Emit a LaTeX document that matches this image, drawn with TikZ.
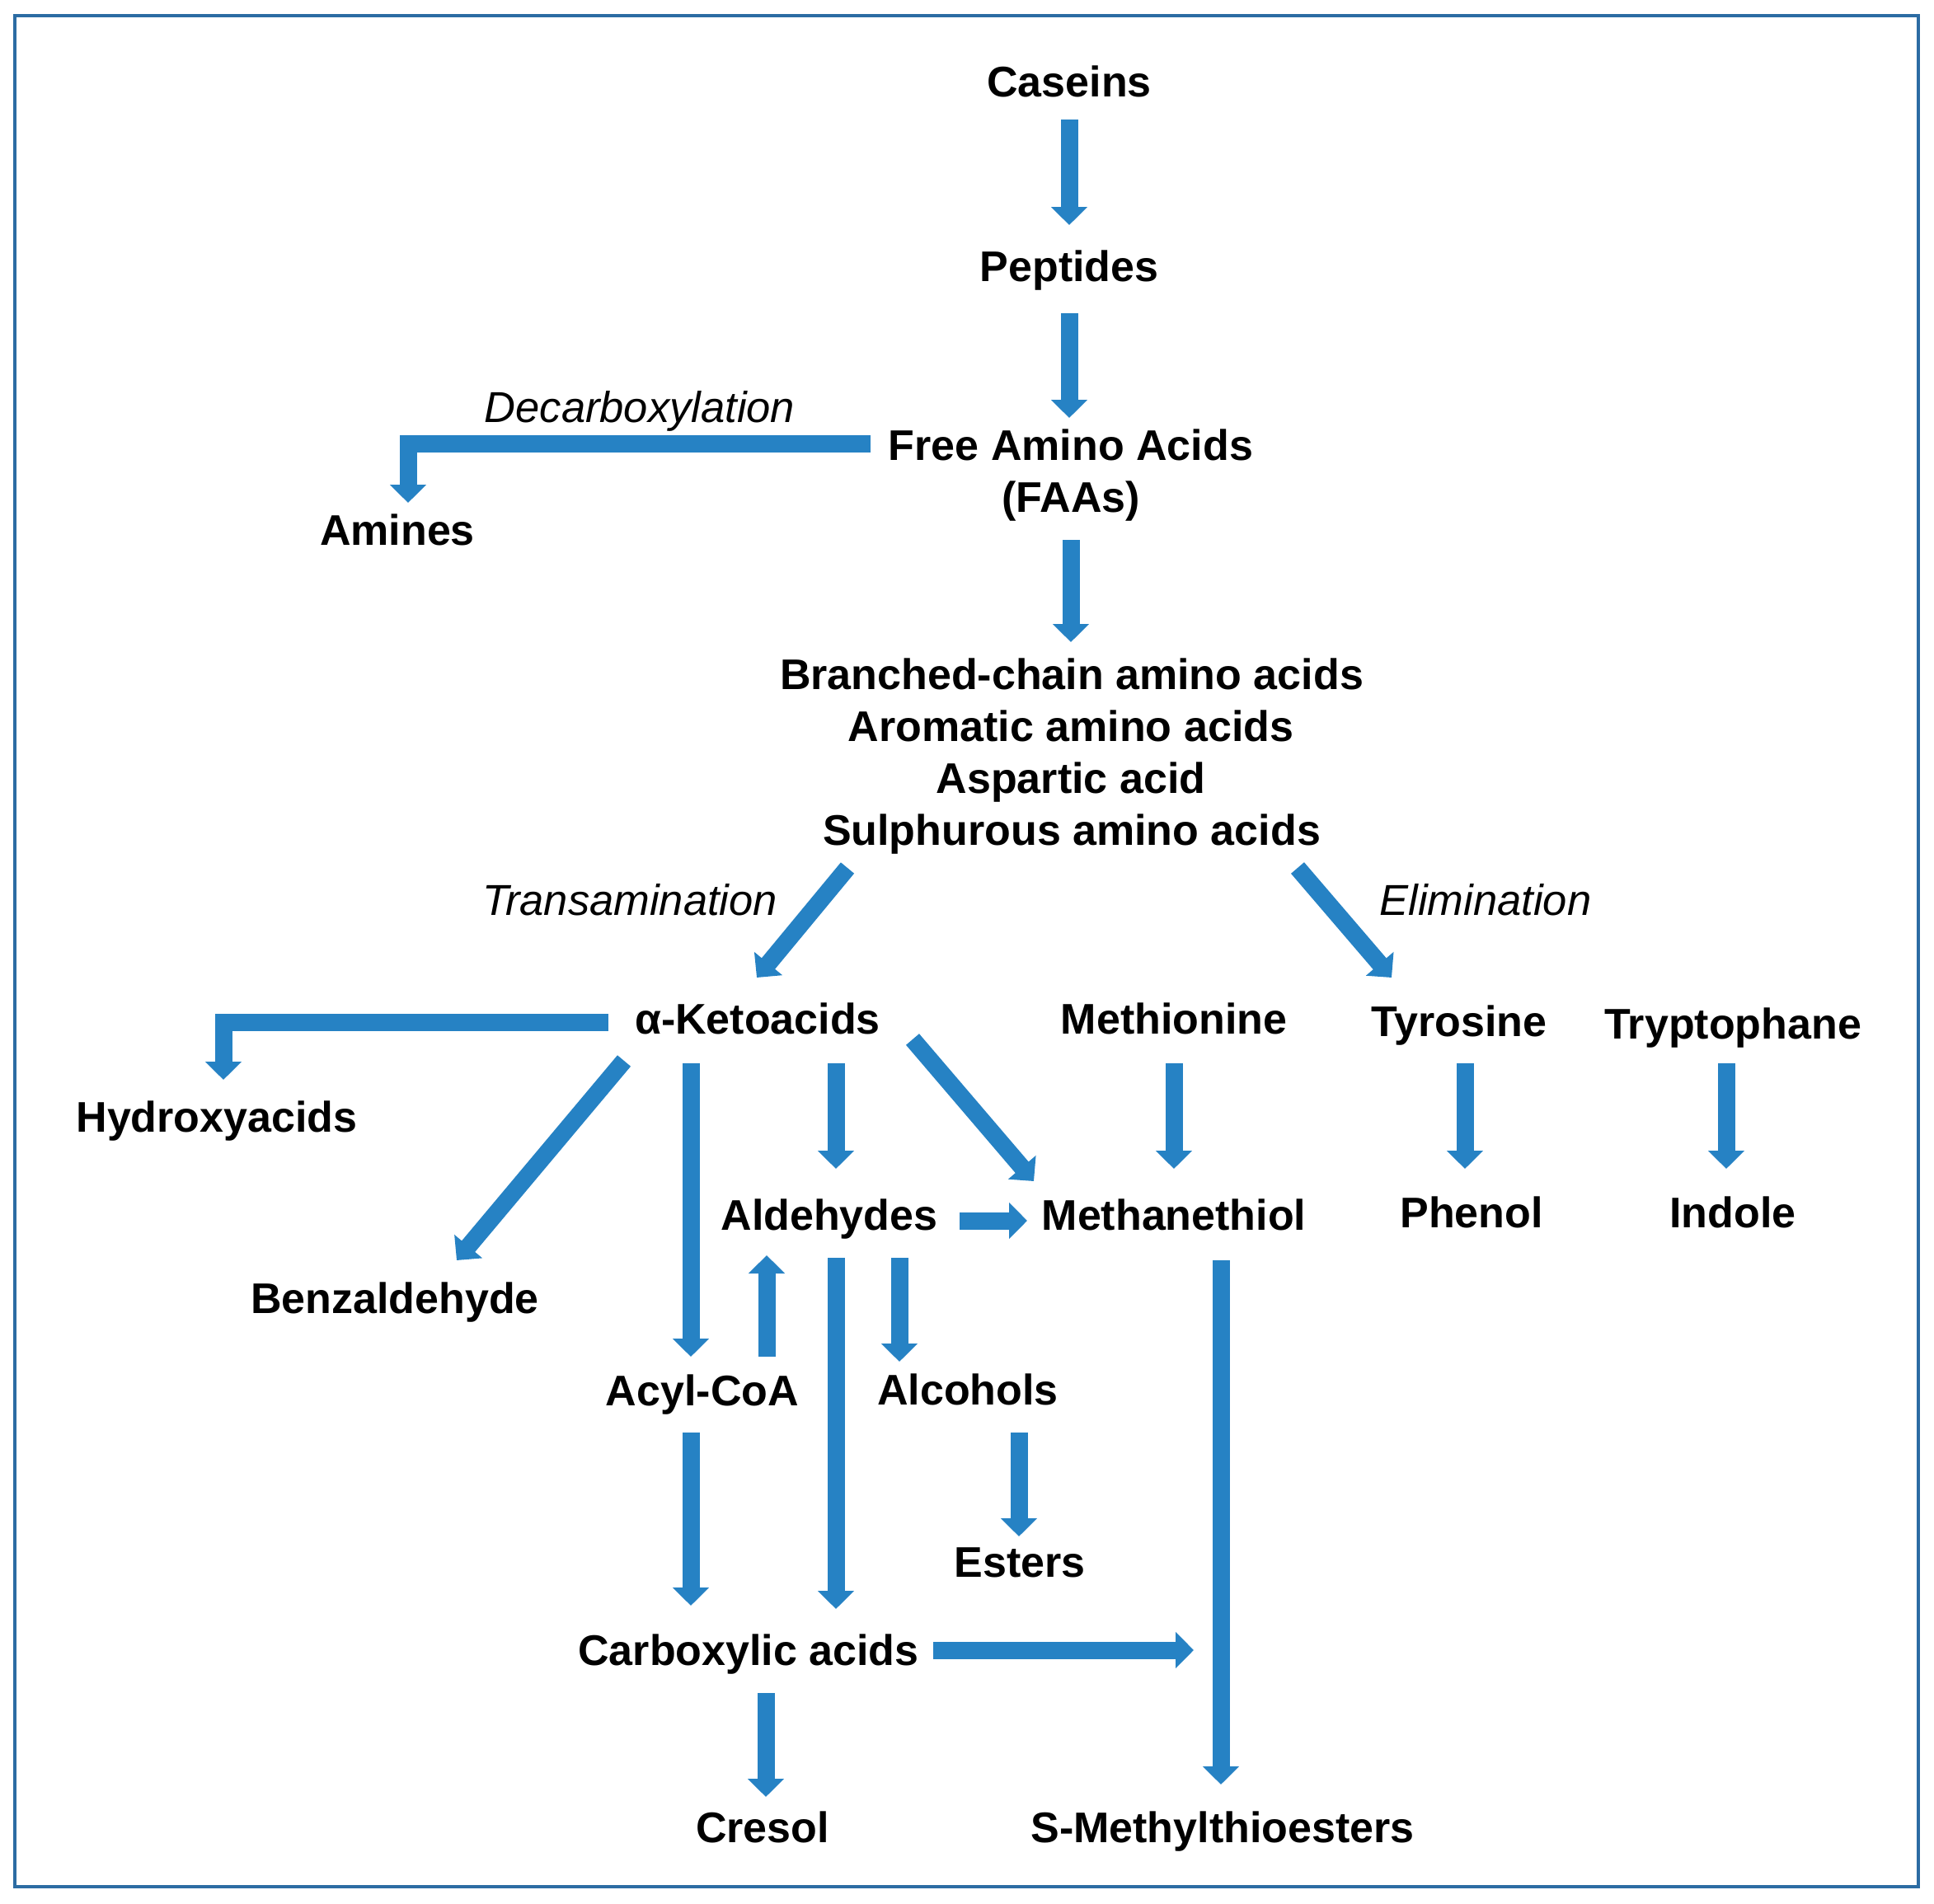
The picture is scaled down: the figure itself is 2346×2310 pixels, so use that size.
\documentclass[tikz,border=0pt]{standalone}
\usepackage{fontspec}
\setmainfont{Liberation Sans}
\usetikzlibrary{arrows.meta}
\definecolor{arrblue}{RGB}{38,130,196}
\definecolor{frameblue}{RGB}{44,108,163}
\tikzset{
  lbl/.style={font=\fontsize{52}{62}\selectfont\bfseries, inner sep=0pt, text height=37pt, text depth=0pt, anchor=center},
  proc/.style={font=\fontsize{52.5}{62}\selectfont\itshape, inner sep=0pt, text height=37pt, text depth=0pt, anchor=center},
  arr/.style={draw=arrblue, line width=21pt, -{Triangle[width=43pt,length=22pt]}}
}
\begin{document}
\begin{tikzpicture}[x=1pt,y=-1pt]
\useasboundingbox (0,0) rectangle (2346,2310);
\draw[frameblue, line width=4pt] (18,19) rectangle (2327,2289);

% nodes
\node[lbl] (caseins) at (1297,99) {Caseins};
\node[lbl] (peptides) at (1297,323) {Peptides};
\node[lbl] (faa) at (1299,540) {Free Amino Acids};
\node[lbl] (faas) at (1299,603) {(FAAs)};
\node[proc] (decarb) at (776,494) {Decarboxylation};
\node[lbl] (amines) at (482,643) {Amines};
\node[lbl] (b1) at (1300,818) {Branched-chain amino acids};
\node[lbl] (b2) at (1299,881) {Aromatic amino acids};
\node[lbl] (b3) at (1299,944) {Aspartic acid};
\node[lbl] (b4) at (1300,1007) {Sulphurous amino acids};
\node[proc] (transam) at (764,1092) {Transamination};
\node[proc] (elim) at (1802,1092) {Elimination};
\node[lbl] (keto) at (919,1236) {α-Ketoacids};
\node[lbl] (methionine) at (1424,1236) {Methionine};
\node[lbl] (tyrosine) at (1770,1239) {Tyrosine};
\node[lbl] (trypt) at (2102,1242) {Tryptophane};
\node[lbl] (hydroxy) at (263,1355) {Hydroxyacids};
\node[lbl] (ald) at (1006,1474) {Aldehydes};
\node[lbl] (meth) at (1424,1474) {Methanethiol};
\node[lbl] (phenol) at (1785,1471) {Phenol};
\node[lbl] (indole) at (2102,1471) {Indole};
\node[lbl] (benz) at (479,1575) {Benzaldehyde};
\node[lbl] (acyl) at (852,1687) {Acyl-CoA};
\node[lbl] (alc) at (1174,1686) {Alcohols};
\node[lbl] (esters) at (1237,1895) {Esters};
\node[lbl] (carb) at (908,2002) {Carboxylic acids};
\node[lbl] (cresol) at (925,2217) {Cresol};
\node[lbl] (smt) at (1483,2217) {S-Methylthioesters};

% connectors
\draw[arr] ([shift={(0,46)}]caseins.center) -- ([shift={(0,-50)}]peptides.center);
\draw[arr] ([shift={(0,57)}]peptides.center) -- ([shift={(-2,-33)}]faa.center);
\draw[arr] ([shift={(-243,-2)}]faa.center) -| ([shift={(13,-33)}]amines.center);
\draw[arr] ([shift={(0,52)}]faas.center) -- ([shift={(-1,-39)}]b1.center);
\draw[arr] ([shift={(-272,46)}]b4.center) -- ([shift={(-1,-50)}]keto.center);
\draw[arr] ([shift={(274,46)}]b4.center) -- ([shift={(-82,-53)}]tyrosine.center);
\draw[arr] ([shift={(-181,4)}]keto.center) -| ([shift={(8,-45)}]hydroxy.center);
\draw[arr] ([shift={(-162,51)}]keto.center) -- ([shift={(75,-46)}]benz.center);
\draw[arr] ([shift={(-81,54)}]keto.center) -- ([shift={(-14,-41)}]acyl.center);
\draw[arr] ([shift={(95,54)}]keto.center) -- ([shift={(8,-56)}]ald.center);
\draw[arr] ([shift={(188,25)}]keto.center) -- ([shift={(-170,-41)}]meth.center);
\draw[arr] ([shift={(0,54)}]methionine.center) -- ([shift={(0,-56)}]meth.center);
\draw[arr] ([shift={(7,51)}]tyrosine.center) -- ([shift={(-8,-53)}]phenol.center);
\draw[arr] ([shift={(-8,48)}]trypt.center) -- ([shift={(-8,-53)}]indole.center);
\draw[arr] ([shift={(158,7)}]ald.center) -- ([shift={(-178,7)}]meth.center);
\draw[arr] ([shift={(78,-41)}]acyl.center) -- ([shift={(-76,49)}]ald.center);
\draw[arr] ([shift={(8,52)}]ald.center) -- ([shift={(106,-50)}]carb.center);
\draw[arr] ([shift={(85,52)}]ald.center) -- ([shift={(-83,-34)}]alc.center);
\draw[arr] ([shift={(62,52)}]alc.center) -- ([shift={(-1,-31)}]esters.center);
\draw[arr] ([shift={(-14,51)}]acyl.center) -- ([shift={(-70,-54)}]carb.center);
\draw[arr] ([shift={(224,0)}]carb.center) -- ([shift={(-35,-215)}]smt.center);
\draw[arr] ([shift={(57,55)}]meth.center) -- ([shift={(-2,-52)}]smt.center);
\draw[arr] ([shift={(21,52)}]carb.center) -- ([shift={(4,-37)}]cresol.center);
\end{tikzpicture}
\end{document}
